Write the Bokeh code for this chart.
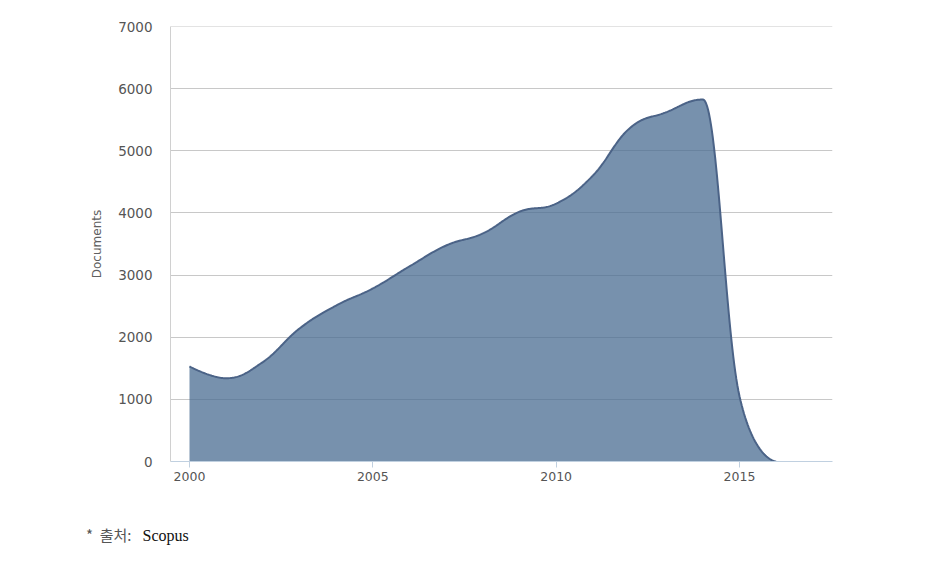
from bokeh.plotting import figure
from bokeh.models import Range1d, FixedTicker, Span, Div
from bokeh.layouts import column
from bokeh.embed import file_html
from bokeh.resources import INLINE

# ---- data ----
years = [2000, 2001, 2002, 2003, 2004, 2005, 2006, 2007, 2008,
         2009, 2010, 2011, 2012, 2013, 2014, 2015, 2016]
documents = [1530, 1340, 1600, 2140, 2510, 2785, 3140, 3476, 3670,
             4020, 4150, 4600, 5360, 5620, 5825, 1050, 0]
x_ticks = [2000, 2005, 2010, 2015]
y_ticks = [0, 1000, 2000, 3000, 4000, 5000, 6000, 7000]
y_label = "Documents"
note_prefix = "*&nbsp;&nbsp;출처:"
note_source = "Scopus"


# ---- spline rendering (Highcharts-style areaspline control points) ----
def spline_path(xs, ys, smoothing=1.5, steps=40):
    n = len(xs)
    denom = smoothing + 1
    lc = [None] * n
    rc = [None] * n
    for i in range(1, n - 1):
        px, py = xs[i], ys[i]
        lx, ly = xs[i - 1], ys[i - 1]
        nx, ny = xs[i + 1], ys[i + 1]
        lcx = (smoothing * px + lx) / denom
        lcy = (smoothing * py + ly) / denom
        rcx = (smoothing * px + nx) / denom
        rcy = (smoothing * py + ny) / denom
        if rcx != lcx:
            corr = ((rcy - lcy) * (rcx - px)) / (rcx - lcx) + py - rcy
            lcy += corr
            rcy += corr
        if lcy > max(ly, py):
            lcy = max(ly, py); rcy = 2 * py - lcy
        elif lcy < min(ly, py):
            lcy = min(ly, py); rcy = 2 * py - lcy
        if rcy > max(py, ny):
            rcy = max(py, ny); lcy = 2 * py - rcy
        elif rcy < min(py, ny):
            rcy = min(py, ny); lcy = 2 * py - rcy
        lc[i] = (lcx, lcy)
        rc[i] = (rcx, rcy)
    out_x, out_y = [xs[0]], [ys[0]]
    for i in range(1, n):
        p0 = (xs[i - 1], ys[i - 1])
        p3 = (xs[i], ys[i])
        p1 = rc[i - 1] if rc[i - 1] is not None else p0
        p2 = lc[i] if lc[i] is not None else p3
        for k in range(1, steps + 1):
            t = k / steps
            a = (1 - t) ** 3; b = 3 * (1 - t) ** 2 * t; c = 3 * (1 - t) * t ** 2; d = t ** 3
            out_x.append(a * p0[0] + b * p1[0] + c * p2[0] + d * p3[0])
            out_y.append(a * p0[1] + b * p1[1] + c * p2[1] + d * p3[1])
    return out_x, out_y


sx, sy = spline_path(years, documents)

W = 942
left, right, top, bottom = 170, 110, 26, 49
frame_h = 435
H = top + frame_h + bottom
frame_w = W - left - right
px_per_year = 550 / 15.0
x0 = 2000 - 19 / px_per_year
x1 = x0 + frame_w / px_per_year

p = figure(width=W, height=H, output_backend="svg", toolbar_location=None,
           x_range=Range1d(x0, x1), y_range=Range1d(0, 7000),
           min_border_left=left, min_border_right=right,
           min_border_top=top, min_border_bottom=bottom)
p.outline_line_color = None
p.background_fill_color = "white"
p.border_fill_color = "white"

# grid
p.xgrid.grid_line_color = None
p.ygrid.ticker = FixedTicker(ticks=y_ticks)
p.ygrid.grid_line_color = "#c8c8c8"
p.ygrid.grid_line_width = 1
p.add_layout(Span(location=y_ticks[-1], dimension="width",
                  line_color="#c8c8c8", line_width=1))

# x axis
xa = p.xaxis[0]
xa.ticker = FixedTicker(ticks=x_ticks)
xa.axis_line_color = "#c0d0e0"
xa.major_tick_line_color = "#c0d0e0"
xa.major_tick_out = 6
xa.major_tick_in = 0
xa.minor_tick_line_color = None
xa.major_label_text_font = "DejaVu Sans"
xa.major_label_text_font_size = "12.5px"
xa.major_label_text_color = "#555555"
xa.major_label_standoff = 4

# y axis
ya = p.yaxis[0]
ya.ticker = FixedTicker(ticks=y_ticks)
ya.axis_line_color = "#d0d0d0"
ya.major_tick_line_color = None
ya.minor_tick_line_color = None
ya.major_tick_out = 0
ya.major_tick_in = 0
ya.major_label_text_font = "DejaVu Sans"
ya.major_label_text_font_size = "13.5px"
ya.major_label_text_color = "#555555"
ya.major_label_standoff = 18
ya.axis_label = y_label
ya.axis_label_text_font = "DejaVu Sans"
ya.axis_label_text_font_size = "12px"
ya.axis_label_text_font_style = "normal"
ya.axis_label_text_color = "#606060"
ya.axis_label_standoff = 11

# area
p.varea(x=sx, y1=[0] * len(sx), y2=sy, fill_color="#4a6c92", fill_alpha=0.75)
p.line(x=sx, y=sy, line_color="#4b6387", line_width=2)

# footnote
note_html = (
    '<span style="font-family:\'Noto Sans CJK KR\';font-size:15px;color:#555555;">'
    + note_prefix + '</span>'
    + '<span style="font-family:\'Liberation Serif\';font-size:16px;color:#111111;'
    'margin-left:11px;">' + note_source + '</span>'
)
note = Div(text=note_html, width=W - 86, height=585 - H - 15,
           styles={"margin-left": "86px", "margin-top": "15px",
                   "line-height": "20px", "white-space": "nowrap"})

layout = column(p, note, spacing=0)
open("out.html", "w").write(file_html(layout, INLINE))
